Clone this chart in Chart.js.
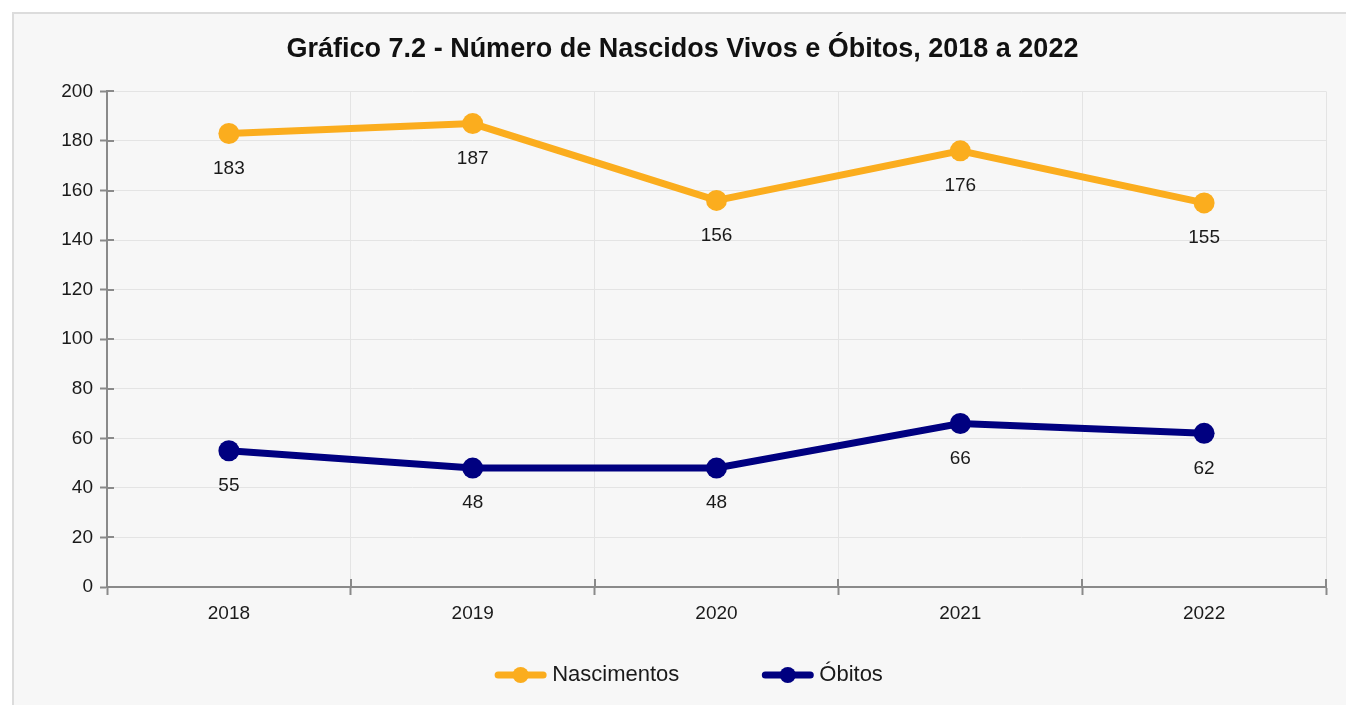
<!DOCTYPE html>
<html lang="pt">
<head>
<meta charset="utf-8">
<title>Gráfico 7.2</title>
<script src="https://cdn.jsdelivr.net/npm/chart.js@4.4.1/dist/chart.umd.min.js"></script>
<style>
  html, body { margin: 0; padding: 0; background: #ffffff; overflow: hidden; }
  #panel {
    position: absolute; left: 12px; top: 12px;
    width: 1340px; height: 700px;
    border: 2px solid #dcdcdc; background: #f7f7f7;
  }
  #chart { display: block; }
</style>
</head>
<body>
<div id="panel"><canvas id="chart" width="1332" height="691"></canvas></div>
<script>
// dados
var anos = ['2018', '2019', '2020', '2021', '2022'];
var nascimentos = [183, 187, 156, 176, 155];
var obitos = [55, 48, 48, 66, 62];
var yMin = 0, yMax = 200, yPasso = 20;

var FONTE = "'Liberation Sans', Arial, sans-serif";
var LARANJA = '#fbad1e';
var AZUL = '#000080';
var EIXO = '#8a8a8a';
var GRADE = '#e4e4e4';

// marcas de escala que cruzam o eixo (parte interna)
var marcasInternas = {
    id: 'marcasInternas',
    afterDraw: function (chart) {
        var ctx = chart.ctx, x = chart.scales.x, y = chart.scales.y;
        ctx.save();
        ctx.strokeStyle = EIXO;
        ctx.lineWidth = 2;
        ctx.beginPath();
        y.ticks.forEach(function (t, i) {
            var py = Math.round(y.getPixelForTick(i));
            ctx.moveTo(y.right, py);
            ctx.lineTo(y.right + 7, py);
        });
        for (var i = 1; i <= anos.length; i++) {
            var px = Math.round(x.left + (x.right - x.left) * i / anos.length);
            ctx.moveTo(px, x.top);
            ctx.lineTo(px, x.top - 8);
        }
        ctx.stroke();
        ctx.restore();
    }
};

// valores abaixo de cada ponto
var rotulos = {
    id: 'rotulos',
    afterDatasetsDraw: function (chart) {
        var ctx = chart.ctx;
        ctx.save();
        ctx.font = '19px ' + FONTE;
        ctx.fillStyle = '#1a1a1a';
        ctx.textAlign = 'center';
        ctx.textBaseline = 'middle';
        chart.data.datasets.forEach(function (ds, di) {
            chart.getDatasetMeta(di).data.forEach(function (pt, i) {
                ctx.fillText(String(ds.data[i]), pt.x, pt.y + 35);
            });
        });
        ctx.restore();
    }
};

// legenda com linha e marcador
var legenda = {
    id: 'legenda',
    afterDraw: function (chart) {
        var ctx = chart.ctx;
        var dss = chart.data.datasets;
        var linha = 51, gapTexto = 6, gapItem = 83;
        ctx.save();
        ctx.font = '22px ' + FONTE;
        var total = 0;
        dss.forEach(function (ds, i) {
            total += linha + gapTexto + ctx.measureText(ds.label).width;
            if (i < dss.length - 1) total += gapItem;
        });
        var x = chart.width / 2 + 9 - total / 2;
        var y = 661;
        dss.forEach(function (ds) {
            ctx.strokeStyle = ds.borderColor;
            ctx.lineWidth = 7;
            ctx.lineCap = 'round';
            ctx.beginPath();
            ctx.moveTo(x + 3, y);
            ctx.lineTo(x + linha - 3, y);
            ctx.stroke();
            ctx.fillStyle = ds.borderColor;
            ctx.beginPath();
            ctx.arc(x + linha / 2, y, 8, 0, Math.PI * 2);
            ctx.fill();
            ctx.fillStyle = '#1a1a1a';
            ctx.textAlign = 'left';
            ctx.textBaseline = 'middle';
            ctx.fillText(ds.label, x + linha + gapTexto, y);
            x += linha + gapTexto + ctx.measureText(ds.label).width + gapItem;
        });
        ctx.restore();
    }
};

var ctx = document.getElementById('chart').getContext('2d');
var chart = new Chart(ctx, {
    type: 'line',
    data: {
        labels: anos,
        datasets: [{
            label: 'Nascimentos',
            data: nascimentos,
            borderColor: LARANJA,
            backgroundColor: LARANJA,
            borderWidth: 7,
            pointRadius: 10.5,
            pointBorderWidth: 0,
            pointBackgroundColor: LARANJA,
            tension: 0
        }, {
            label: 'Óbitos',
            data: obitos,
            borderColor: AZUL,
            backgroundColor: AZUL,
            borderWidth: 7,
            pointRadius: 10.5,
            pointBorderWidth: 0,
            pointBackgroundColor: AZUL,
            tension: 0
        }]
    },
    options: {
        responsive: false,
        animation: false,
        layout: { padding: { left: 25, right: 20, top: 0, bottom: 74 } },
        plugins: {
            legend: { display: false },
            tooltip: { enabled: false },
            title: {
                display: true,
                text: 'Gráfico 7.2 - Número de Nascidos Vivos e Óbitos, 2018 a 2022',
                color: '#111111',
                font: { family: FONTE, size: 27, weight: 'bold' },
                padding: { top: 19, bottom: 26 }
            }
        },
        scales: {
            x: {
                offset: true,
                grid: { offset: true, color: GRADE, lineWidth: 1, tickLength: 8, tickColor: EIXO, tickWidth: 2 },
                border: { color: EIXO, width: 2 },
                ticks: { color: '#1a1a1a', padding: 7, font: { family: FONTE, size: 19 } },
                afterFit: function (s) { s.height = 44; }
            },
            y: {
                min: yMin,
                max: yMax,
                grid: { color: GRADE, lineWidth: 1, tickLength: 7, tickColor: EIXO, tickWidth: 2 },
                border: { color: EIXO, width: 2 },
                ticks: { stepSize: yPasso, color: '#1a1a1a', padding: 7, font: { family: FONTE, size: 19 } },
                afterFit: function (s) { s.width = 68; }
            }
        }
    },
    plugins: [marcasInternas, rotulos, legenda]
});
</script>
</body>
</html>
